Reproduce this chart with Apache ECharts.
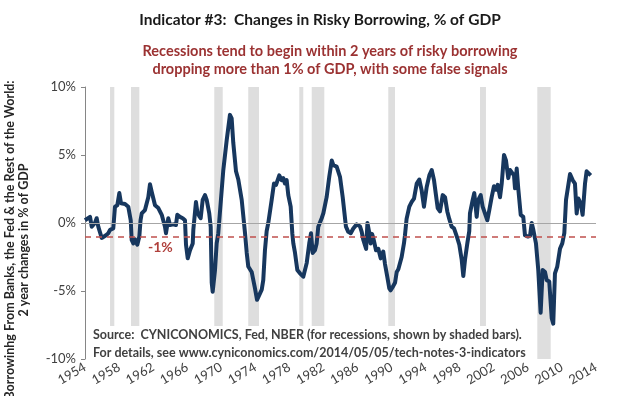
<!DOCTYPE html>
<html>
<head>
<meta charset="utf-8">
<script src="https://cdn.jsdelivr.net/npm/echarts@6/dist/echarts.min.js"></script>
<style>
  html, body { margin: 0; padding: 0; background: #fff; }
  #chart { width: 625px; height: 396px; }
</style>
</head>
<body>
<div id="chart"></div>
<script>
// 横轴位置（年），读图估计
var years = [
  1954.00, 1954.59, 1954.79, 1955.17, 1955.37, 1955.56, 1955.76, 1955.96, 1956.15, 1956.47,
  1956.74, 1956.94, 1957.32, 1957.52, 1957.79, 1958.03, 1958.23, 1958.70, 1959.08, 1959.37,
  1959.48, 1959.67, 1959.87, 1960.14, 1960.38, 1960.52, 1960.66, 1961.04, 1961.43, 1961.63,
  1961.83, 1962.02, 1962.22, 1962.61, 1963.01, 1963.39, 1963.51, 1963.78, 1963.98, 1964.37,
  1964.68, 1964.84, 1965.15, 1965.47, 1965.74, 1965.86, 1966.06, 1966.33, 1966.65, 1966.72,
  1967.03, 1967.19, 1967.42, 1967.58, 1967.82, 1968.09, 1968.29, 1968.59, 1968.76, 1968.88,
  1968.99, 1969.26, 1969.46, 1969.65, 1970.24, 1970.64, 1971.02, 1971.22, 1971.41, 1971.73,
  1972.00, 1972.40, 1972.79, 1972.99, 1973.17, 1973.57, 1973.96, 1974.20, 1974.35, 1974.75,
  1974.93, 1975.13, 1975.33, 1975.52, 1975.92, 1976.19, 1976.43, 1976.81, 1977.09, 1977.28,
  1977.48, 1977.68, 1977.87, 1978.15, 1978.34, 1978.46, 1978.66, 1978.93, 1979.24, 1979.63,
  1979.83, 1980.03, 1980.33, 1980.54, 1980.73, 1981.00, 1981.20, 1981.39, 1981.79, 1981.98,
  1982.37, 1982.68, 1982.97, 1983.16, 1983.55, 1983.94, 1984.26, 1984.64, 1984.91, 1985.20,
  1985.50, 1985.90, 1986.09, 1986.29, 1986.49, 1986.68, 1987.01, 1987.16, 1987.38, 1987.54,
  1987.70, 1987.85, 1988.17, 1988.44, 1988.72, 1989.02, 1989.22, 1989.49, 1989.73, 1989.89,
  1990.13, 1990.40, 1990.60, 1990.79, 1991.18, 1991.45, 1991.57, 1991.76, 1992.08, 1992.36,
  1992.63, 1992.95, 1993.25, 1993.53, 1993.80, 1994.12, 1994.43, 1994.71, 1994.98, 1995.21,
  1995.41, 1995.68, 1996.00, 1996.27, 1996.54, 1996.77, 1997.05, 1997.33, 1997.56, 1997.71,
  1997.95, 1998.23, 1998.42, 1998.62, 1998.89, 1999.12, 1999.20, 1999.52, 1999.71, 1999.99,
  2000.18, 2000.46, 2000.69, 2000.96, 2001.24, 2001.47, 2001.75, 2002.02, 2002.26, 2002.46,
  2002.73, 2002.93, 2003.20, 2003.43, 2003.70, 2003.90, 2004.10, 2004.37, 2004.49, 2004.69,
  2004.87, 2005.16, 2005.46, 2005.66, 2006.01, 2006.25, 2006.45, 2006.64, 2006.95, 2007.22,
  2007.50, 2007.74, 2008.01, 2008.21, 2008.51, 2008.80, 2008.98, 2009.18, 2009.45, 2009.77,
  2010.04, 2010.28, 2010.48, 2010.95, 2011.26, 2011.53, 2011.73, 2011.92, 2012.20, 2012.43,
  2012.71, 2012.90, 2013.09, 2013.38
];

// 两年变化，占GDP %
var borrowing = [
  0.2, 0.45, -0.27, 0, 0.35, -0.27, -0.15, -1.1, -1.0, -0.9,
  -0.75, -0.5, -0.4, 1.2, 1.3, 2.2, 1.45, 1.4, 1.2, 0.2,
  -1.25, -1.5, -1.2, -1.6, -1.0, 0.2, 0.7, 0.95, 1.9, 2.85,
  2.3, 2.4, 1.3, 1.1, 0.6, -0.27, -0.75, 0.35, -0.15, -0.1,
  -0.15, 0.6, 0.45, 0.35, 0.2, -1.6, -2.6, -2.0, -1.5, -0.5,
  1.55, 0.8, 0.5, 0.35, 1.7, 2.05, 1.7, 0.7, -0.27, -4.4,
  -5.05, -3.5, -1.5, -0.75, 3.9, 6.1, 7.95, 7.7, 5.9, 3.8,
  3.2, 1.7, -0.75, -2.2, -3.2, -3.6, -4.8, -5.65, -5.45, -4.9,
  -4.2, -2.0, -0.6, 0, 1.7, 2.9, 2.8, 3.5, 3.15, 3.3,
  2.9, 3.15, 2.05, 1.2, -0.75, -1.5, -2.2, -3.45, -3.7, -3.95,
  -4.05, -2.95, -1.5, -0.75, -2.2, -2.0, -1.5, -0.27, 0.35, 0.7,
  1.9, 3.4, 4.6, 4.25, 4.15, 3.4, 1.9, -0.27, -0.65, -0.75,
  -0.4, -0.1, 0, -0.25, -0.65, -1.25, -1.9, 0, -0.7, -1.5,
  -0.8, -1.1, -2.0, -1.9, -2.6, -2.1, -3.0, -3.95, -4.8, -4.95,
  -4.7, -4.4, -3.6, -3.4, -2.5, -1.5, -0.9, 0.3, 1.2, 1.55,
  1.8, 2.9, 3.2, 2.4, 1.2, 2.65, 3.5, 3.9, 3.15, 2.05,
  1.1, 0.85, 2.05, 1.9, 0.85, 0.3, -0.27, -0.4, -0.4, -1.1,
  -1.6, -2.7, -3.9, -2.7, -1.5, -0.6, 0.7, 1.7, 2.2, 0.45,
  1.7, 2.05, 1.2, 0.7, 0.2, 0.95, 1.9, 2.7, 2.45, 2.8,
  1.9, 2.9, 5.0, 4.6, 3.3, 3.9, 4.0, 3.5, 2.55, 4.0,
  2.55, 0.6, 0.45, -0.9, -1.0, -0.95, 0, -0.5, -1.5, -3.45,
  -6.6, -3.45, -3.6, -4.2, -4.3, -7.0, -7.4, -3.7, -3.2, -1.9,
  -1.5, -0.75, 1.7, 3.6, 3.15, 2.9, 0.7, 1.8, 1.45, 0.6,
  2.9, 3.8, 3.7, 3.5
];

// 衰退期（阴影）
var recessions = [
  [1956.94, 1957.44], [1959.40, 1960.38], [1969.18, 1970.17],
  [1973.17, 1974.43], [1979.16, 1979.63], [1980.62, 1982.10],
  [1989.61, 1990.40], [2000.38, 2001.08], [2007.11, 2008.68]
];

var threshold = -1;
var yMin = -10, yMax = 10, yStep = 5;
var xMin = 1954, xMax = 2014, xStep = 4;

var FONT = 'Lato, "Open Sans", sans-serif';

var option = {
  animation: false,
  textStyle: { fontFamily: FONT },
  grid: { left: 85, right: 29, top: 87, bottom: 37, containLabel: false },
  xAxis: {
    type: 'value',
    min: xMin,
    max: xMax,
    interval: xStep,
    axisLine: { show: false },
    axisTick: { show: false },
    splitLine: { show: false },
    axisLabel: {
      rotate: 30,
      margin: 7,
      fontSize: 13,
      color: '#404040',
      fontFamily: FONT,
      formatter: function (v) { return String(v); }
    }
  },
  yAxis: {
    type: 'value',
    min: yMin,
    max: yMax,
    interval: yStep,
    axisLine: { show: true, lineStyle: { color: '#868686', width: 1 } },
    axisTick: { show: true, length: 4, lineStyle: { color: '#868686' } },
    splitLine: { show: false },
    axisLabel: {
      margin: 9,
      fontSize: 13,
      color: '#404040',
      fontFamily: FONT,
      formatter: '{value}%'
    }
  },
  series: [
    {
      // 衰退期阴影 + 参考线
      type: 'line',
      data: [],
      silent: true,
      z: 1,
      markArea: {
        silent: true,
        itemStyle: { color: '#dedede' },
        data: recessions.map(function (r) {
          return [{ xAxis: r[0] }, { xAxis: r[1] }];
        })
      },
      markLine: {
        silent: true,
        symbol: 'none',
        label: { show: false },
        data: [
          { yAxis: 0, lineStyle: { color: '#a6a6a6', width: 1, type: 'solid' } },
          { yAxis: threshold, lineStyle: { color: '#c0504d', width: 1.5, type: [6, 5] } }
        ]
      }
    },
    {
      name: 'Risky borrowing',
      type: 'line',
      z: 3,
      showSymbol: false,
      data: years.map(function (y, i) { return [y, borrowing[i]]; }),
      lineStyle: { color: '#17375e', width: 4, join: 'round' },
      itemStyle: { color: '#17375e' }
    }
  ],
  graphic: [
    {
      type: 'text', x: 320, y: 20, z: 100,
      style: {
        text: 'Indicator #3:  Changes in Risky Borrowing, % of GDP',
        align: 'center', verticalAlign: 'middle',
        font: 'bold 15.5px ' + FONT, fill: '#1a1a1a'
      }
    },
    {
      type: 'text', x: 330, y: 60, z: 100,
      style: {
        text: 'Recessions tend to begin within 2 years of risky borrowing\ndropping more than 1% of GDP, with some false signals',
        align: 'center', verticalAlign: 'middle', lineHeight: 18,
        font: 'bold 14.5px ' + FONT, fill: '#9b3232'
      }
    },
    {
      type: 'text', x: 17, y: 240, rotation: Math.PI / 2, z: 100,
      style: {
        text: 'Borrowinhg From Banks, the Fed & the Rest of the World:\n2 year changes in % of GDP',
        align: 'center', verticalAlign: 'middle', lineHeight: 14,
        font: 'bold 12.5px ' + FONT, fill: '#262626'
      }
    },
    {
      type: 'text', x: 148, y: 247, z: 100,
      style: {
        text: '-1%', align: 'left', verticalAlign: 'middle',
        font: 'bold 14px ' + FONT, fill: '#b0403c'
      }
    },
    {
      type: 'rect', z: 90,
      shape: { x: 88, y: 326, width: 444, height: 34 },
      style: { fill: '#ffffff' }
    },
    {
      type: 'text', x: 93, y: 344, z: 100,
      style: {
        text: 'Source:  CYNICONOMICS, Fed, NBER (for recessions, shown by shaded bars).\nFor details, see www.cyniconomics.com/2014/05/05/tech-notes-3-indicators',
        align: 'left', verticalAlign: 'middle', lineHeight: 18,
        font: 'bold 12.5px ' + FONT, fill: '#404040'
      }
    }
  ]
};

var myChart = echarts.init(document.getElementById('chart'));
myChart.setOption(option);
</script>
</body>
</html>
